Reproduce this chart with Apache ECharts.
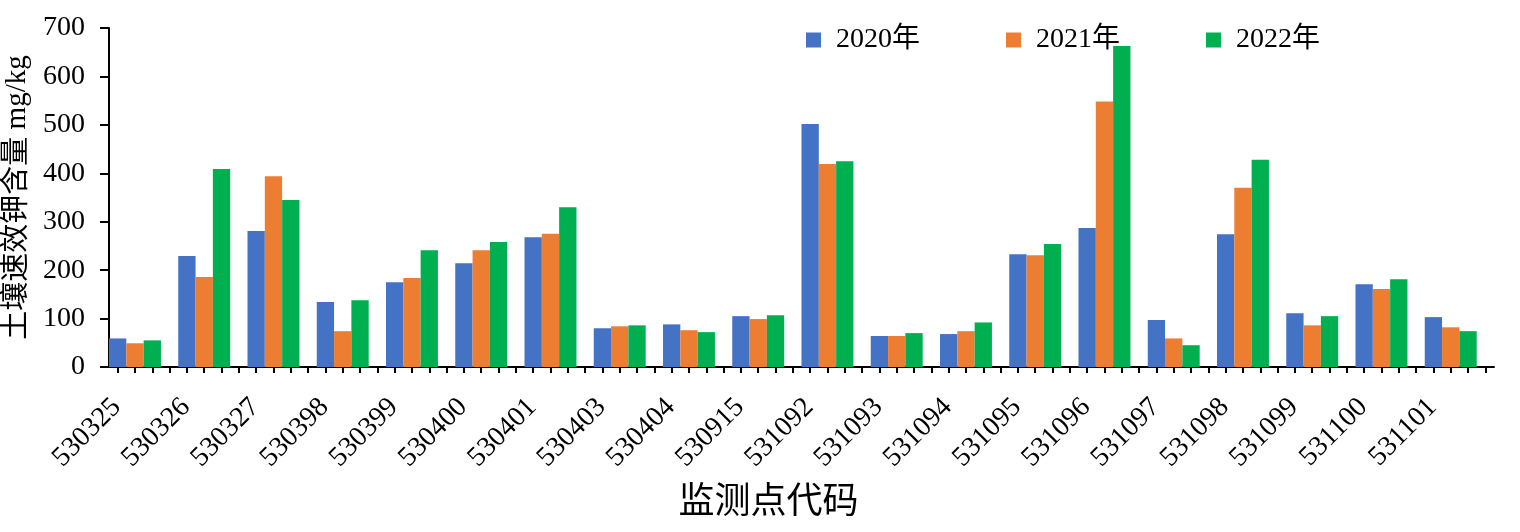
<!DOCTYPE html>
<html>
<head>
<meta charset="utf-8">
<script src="https://cdn.jsdelivr.net/npm/echarts@6/dist/echarts.min.js"></script>
<style>
html,body{margin:0;padding:0;background:#fff;}
#chart{width:1520px;height:532px;}
</style>
</head>
<body>
<div id="chart"></div>
<script>
const categories = ['530325','530326','530327','530398','530399','530400','530401','530403','530404','530915','531092','531093','531094','531095','531096','531097','531098','531099','531100','531101'];
const seriesNames = ['2020年','2021年','2022年'];
const values2020 = [59,229,281,134,175,214,268,80,88,105,502,64,68,233,287,97,274,111,171,103];
const values2021 = [49,186,394,74,184,241,275,84,76,99,419,64,74,231,548,59,370,86,161,82];
const values2022 = [55,409,345,138,241,258,330,86,72,107,425,70,92,254,663,45,428,105,181,74];
const yTicks = [0,100,200,300,400,500,600,700];
const colors = ['#4472C4','#ED7D31','#00B050'];

const FONT = '"Liberation Serif","Times New Roman","Noto Sans CJK SC",serif';
const slotCats = [];
categories.forEach(c => { for (let i = 0; i < 4; i++) slotCats.push(c + '_' + i); });

const chart = echarts.init(document.getElementById('chart'), null, {renderer:'canvas'});
const dataSets = [values2020, values2021, values2022];
const series = seriesNames.map((n, i) => ({
  name: n, type: 'bar', data: dataSets[i], xAxisIndex: 0,
  itemStyle: {color: colors[i]}, barGap: '0%', barCategoryGap: '0%', animation: false
}));
series.push({name: 'spacer', type: 'bar', xAxisIndex: 0, data: categories.map(() => '-'), barGap: '0%', barCategoryGap: '0%', silent: true});

chart.setOption({
  backgroundColor: '#fff',
  animation: false,
  textStyle: {fontFamily: FONT},
  grid: {left: 109, right: 26, top: 28, bottom: 165, containLabel: false, outerBoundsMode: 'none'},
  legend: {
    data: seriesNames, left: 806, top: 26, padding: 0, itemWidth: 15, itemHeight: 15, itemGap: 86,
    icon: 'rect', textStyle: {fontFamily: FONT, fontSize: 28, color: '#000', padding: [0,0,0,10]}
  },
  xAxis: [{
    type: 'category', data: categories, boundaryGap: true,
    name: '监测点代码', nameLocation: 'middle', nameGap: 119,
    nameTextStyle: {fontFamily: FONT, fontSize: 36, color: '#000', padding: [0, 66, 0, 0]},
    axisLine: {show: true, lineStyle: {color: '#000', width: 2}},
    axisTick: {show: false},
    axisLabel: {rotate: 45, interval: 0, margin: 9, fontSize: 28, color: '#000', fontFamily: FONT, padding: [0, 38, 0, 0]}
  }, {
    type: 'category', data: slotCats, position: 'bottom', boundaryGap: true,
    axisLine: {show: false},
    axisTick: {show: true, alignWithLabel: true, interval: 0, length: 6, lineStyle: {color: '#000', width: 2}},
    axisLabel: {show: false}
  }],
  yAxis: {
    type: 'value', min: 0, max: 700, interval: 100,
    name: '土壤速效钾含量 mg/kg', nameLocation: 'middle', nameGap: 58,
    nameTextStyle: {fontFamily: FONT, fontSize: 29, color: '#000'},
    axisLine: {show: true, lineStyle: {color: '#000', width: 2}},
    axisTick: {show: true, length: 9, lineStyle: {color: '#000', width: 2}},
    splitLine: {show: false},
    axisLabel: {fontSize: 28, color: '#000', margin: 24, fontFamily: FONT,
      formatter: v => yTicks.includes(v) ? String(v) : ''}
  },
  series: series
});
</script>
</body>
</html>
